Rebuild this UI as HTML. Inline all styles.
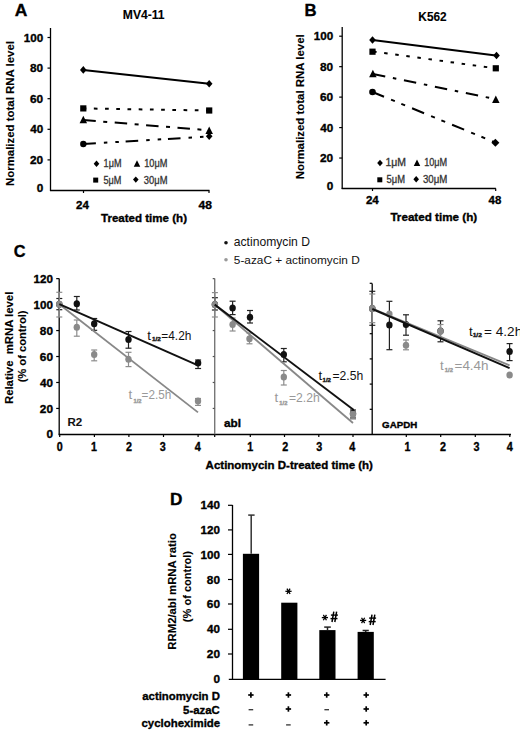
<!DOCTYPE html>
<html><head><meta charset="utf-8"><style>
html,body{margin:0;padding:0;background:#fff;}
svg{display:block;}
text{font-family:"Liberation Sans",sans-serif;}
</style></head><body>
<svg width="520" height="733" viewBox="0 0 520 733" font-family="Liberation Sans, sans-serif">
<rect width="520" height="733" fill="#fff"/>
<text xml:space="preserve" transform="translate(14.86,15.80) scale(1.0272,1)" font-size="17" font-weight="bold" fill="#000" stroke="#000" stroke-width="0.35" >A</text>
<text xml:space="preserve" transform="translate(122.81,19.20) scale(1.0109,1)" font-size="12" font-weight="bold" fill="#000" stroke="#000" stroke-width="0.1" >MV4-11</text>
<line x1="50.50" y1="28.00" x2="50.50" y2="191.00" stroke="#000" stroke-width="1.3" />
<line x1="50.00" y1="190.50" x2="209.50" y2="190.50" stroke="#000" stroke-width="1.3" />
<text xml:space="preserve" transform="translate(36.63,192.30) scale(1.0076,1)" font-size="11.7" font-weight="bold" fill="#000" stroke="#000" stroke-width="0.35" >0</text>
<line x1="47.50" y1="159.90" x2="50.50" y2="159.90" stroke="#000" stroke-width="1.2" />
<text xml:space="preserve" transform="translate(29.98,164.00) scale(1.0157,1)" font-size="11.7" font-weight="bold" fill="#000" stroke="#000" stroke-width="0.35" >20</text>
<line x1="47.50" y1="129.30" x2="50.50" y2="129.30" stroke="#000" stroke-width="1.2" />
<text xml:space="preserve" transform="translate(30.23,133.40) scale(0.9965,1)" font-size="11.7" font-weight="bold" fill="#000" stroke="#000" stroke-width="0.35" >40</text>
<line x1="47.50" y1="98.70" x2="50.50" y2="98.70" stroke="#000" stroke-width="1.2" />
<text xml:space="preserve" transform="translate(29.98,102.80) scale(1.0157,1)" font-size="11.7" font-weight="bold" fill="#000" stroke="#000" stroke-width="0.35" >60</text>
<line x1="47.50" y1="68.10" x2="50.50" y2="68.10" stroke="#000" stroke-width="1.2" />
<text xml:space="preserve" transform="translate(30.05,72.20) scale(1.0108,1)" font-size="11.7" font-weight="bold" fill="#000" stroke="#000" stroke-width="0.35" >80</text>
<line x1="47.50" y1="37.50" x2="50.50" y2="37.50" stroke="#000" stroke-width="1.2" />
<text xml:space="preserve" transform="translate(23.74,41.60) scale(0.9972,1)" font-size="11.7" font-weight="bold" fill="#000" stroke="#000" stroke-width="0.35" >100</text>
<line x1="83.50" y1="190.50" x2="83.50" y2="193.00" stroke="#000" stroke-width="1.2" />
<line x1="209.00" y1="190.50" x2="209.00" y2="193.00" stroke="#000" stroke-width="1.2" />
<text xml:space="preserve" transform="translate(76.09,208.50) scale(1.0077,1)" font-size="11.5" font-weight="bold" fill="#000" stroke="#000" stroke-width="0.35" >24</text>
<text xml:space="preserve" transform="translate(198.62,208.50) scale(1.0533,1)" font-size="11.5" font-weight="bold" fill="#000" stroke="#000" stroke-width="0.35" >48</text>
<text xml:space="preserve" transform="translate(100.98,221.90) scale(1.0061,1)" font-size="11.5" font-weight="bold" fill="#000" stroke="#000" stroke-width="0.35" >Treated time (h)</text>
<text xml:space="preserve" transform="translate(13.60,186.04) rotate(-90) scale(1.0119,1)" font-size="11.3" font-weight="bold" fill="#000" stroke="#000" stroke-width="0.12">Normalized total RNA level</text>
<line x1="83.30" y1="69.90" x2="209.20" y2="83.80" stroke="#000" stroke-width="2" />
<line x1="83.30" y1="108.40" x2="209.20" y2="110.50" stroke="#000" stroke-width="2" stroke-dasharray="3.7 7.52" stroke-dashoffset="0.7"/>
<line x1="83.30" y1="120.00" x2="209.20" y2="130.30" stroke="#000" stroke-width="2" stroke-dasharray="12.5 7.5 4 7.5" stroke-dashoffset="0"/>
<line x1="83.30" y1="144.00" x2="209.20" y2="136.50" stroke="#000" stroke-width="2" stroke-dasharray="12.6 8 3.5 8 3.5 6.8" stroke-dashoffset="0"/>
<path d="M80.00,69.90L83.30,66.10L86.60,69.90L83.30,73.70Z" fill="#000"/>
<path d="M205.90,83.80L209.20,80.00L212.50,83.80L209.20,87.60Z" fill="#000"/>
<rect x="80.20" y="105.30" width="6.2" height="6.2" fill="#000"/>
<rect x="206.10" y="107.40" width="6.2" height="6.2" fill="#000"/>
<path d="M79.55,123.25L83.30,115.75L87.05,123.25Z" fill="#000"/>
<path d="M205.45,133.95L209.20,126.45L212.95,133.95Z" fill="#000"/>
<circle cx="83.30" cy="144.00" r="3.2" fill="#000"/>
<path d="M205.90,136.20L209.20,132.40L212.50,136.20L209.20,140.00Z" fill="#000"/>
<path d="M93.70,163.80L96.50,160.60L99.30,163.80L96.50,167.00Z" fill="#000"/>
<text xml:space="preserve" transform="translate(103.62,167.20) scale(0.9086,1)" font-size="10" font-weight="normal" fill="#333" stroke="#333" stroke-width="0.3">1μM</text>
<path d="M133.75,166.75L137.00,160.25L140.25,166.75Z" fill="#000"/>
<text xml:space="preserve" transform="translate(144.21,167.20) scale(0.9218,1)" font-size="10" font-weight="normal" fill="#333" stroke="#333" stroke-width="0.3">10μM</text>
<rect x="93.20" y="177.60" width="5" height="5" fill="#000"/>
<text xml:space="preserve" transform="translate(103.53,184.40) scale(0.9130,1)" font-size="10" font-weight="normal" fill="#333" stroke="#333" stroke-width="0.3">5μM</text>
<path d="M133.00,179.60L135.80,176.40L138.60,179.60L135.80,182.80Z" fill="#000"/>
<text xml:space="preserve" transform="translate(143.83,184.40) scale(0.9375,1)" font-size="10" font-weight="normal" fill="#333" stroke="#333" stroke-width="0.3">30μM</text>
<text xml:space="preserve" transform="translate(304.61,15.80) scale(0.9836,1)" font-size="17" font-weight="bold" fill="#000" stroke="#000" stroke-width="0.35" >B</text>
<text xml:space="preserve" transform="translate(418.33,20.80) scale(0.9883,1)" font-size="12" font-weight="bold" fill="#000" stroke="#000" stroke-width="0.1" >K562</text>
<line x1="342.20" y1="27.00" x2="342.20" y2="189.00" stroke="#000" stroke-width="1.3" />
<line x1="341.70" y1="188.50" x2="495.90" y2="188.50" stroke="#000" stroke-width="1.3" />
<text xml:space="preserve" transform="translate(326.63,190.30) scale(1.0076,1)" font-size="11.7" font-weight="bold" fill="#000" stroke="#000" stroke-width="0.35" >0</text>
<line x1="339.20" y1="158.04" x2="342.20" y2="158.04" stroke="#000" stroke-width="1.2" />
<text xml:space="preserve" transform="translate(319.98,162.14) scale(1.0157,1)" font-size="11.7" font-weight="bold" fill="#000" stroke="#000" stroke-width="0.35" >20</text>
<line x1="339.20" y1="127.58" x2="342.20" y2="127.58" stroke="#000" stroke-width="1.2" />
<text xml:space="preserve" transform="translate(320.23,131.68) scale(0.9965,1)" font-size="11.7" font-weight="bold" fill="#000" stroke="#000" stroke-width="0.35" >40</text>
<line x1="339.20" y1="97.12" x2="342.20" y2="97.12" stroke="#000" stroke-width="1.2" />
<text xml:space="preserve" transform="translate(319.98,101.22) scale(1.0157,1)" font-size="11.7" font-weight="bold" fill="#000" stroke="#000" stroke-width="0.35" >60</text>
<line x1="339.20" y1="66.66" x2="342.20" y2="66.66" stroke="#000" stroke-width="1.2" />
<text xml:space="preserve" transform="translate(320.05,70.76) scale(1.0108,1)" font-size="11.7" font-weight="bold" fill="#000" stroke="#000" stroke-width="0.35" >80</text>
<line x1="339.20" y1="36.20" x2="342.20" y2="36.20" stroke="#000" stroke-width="1.2" />
<text xml:space="preserve" transform="translate(313.74,40.30) scale(0.9972,1)" font-size="11.7" font-weight="bold" fill="#000" stroke="#000" stroke-width="0.35" >100</text>
<line x1="372.50" y1="188.50" x2="372.50" y2="191.00" stroke="#000" stroke-width="1.2" />
<line x1="495.70" y1="188.50" x2="495.70" y2="191.00" stroke="#000" stroke-width="1.2" />
<text xml:space="preserve" transform="translate(365.89,203.60) scale(1.0077,1)" font-size="11.5" font-weight="bold" fill="#000" stroke="#000" stroke-width="0.35" >24</text>
<text xml:space="preserve" transform="translate(488.53,203.70) scale(0.9961,1)" font-size="11.5" font-weight="bold" fill="#000" stroke="#000" stroke-width="0.35" >48</text>
<text xml:space="preserve" transform="translate(390.38,221.20) scale(1.0143,1)" font-size="11.5" font-weight="bold" fill="#000" stroke="#000" stroke-width="0.35" >Treated time (h)</text>
<text xml:space="preserve" transform="translate(304.20,179.24) rotate(-90) scale(1.0119,1)" font-size="11.3" font-weight="bold" fill="#000" stroke="#000" stroke-width="0.12">Normalized total RNA level</text>
<line x1="372.50" y1="40.00" x2="495.80" y2="55.50" stroke="#000" stroke-width="2" />
<line x1="372.50" y1="51.50" x2="495.80" y2="68.30" stroke="#000" stroke-width="2" stroke-dasharray="3.5 7.67" stroke-dashoffset="10.57"/>
<line x1="372.50" y1="73.80" x2="495.80" y2="99.20" stroke="#000" stroke-width="2" stroke-dasharray="12.5 7.8 3.5 7.8" stroke-dashoffset="31.1"/>
<line x1="372.50" y1="92.00" x2="495.80" y2="142.70" stroke="#000" stroke-width="2" stroke-dasharray="13 7.6 4.1 7 4.1 7.5" stroke-dashoffset="0.54"/>
<path d="M369.20,40.00L372.50,36.20L375.80,40.00L372.50,43.80Z" fill="#000"/>
<path d="M493.20,55.50L496.50,51.70L499.80,55.50L496.50,59.30Z" fill="#000"/>
<rect x="369.40" y="48.60" width="6.2" height="6.2" fill="#000"/>
<rect x="492.70" y="65.20" width="6.2" height="6.2" fill="#000"/>
<path d="M369.15,77.35L372.90,69.85L376.65,77.35Z" fill="#000"/>
<path d="M492.05,102.95L495.80,95.45L499.55,102.95Z" fill="#000"/>
<circle cx="372.50" cy="92.00" r="3.3" fill="#000"/>
<path d="M491.40,142.80L495.40,138.80L499.40,142.80L495.40,146.80Z" fill="#000"/>
<path d="M377.20,163.00L380.00,159.80L382.80,163.00L380.00,166.20Z" fill="#000"/>
<text xml:space="preserve" transform="translate(385.51,166.20) scale(1.0471,1)" font-size="10" font-weight="normal" fill="#333" stroke="#333" stroke-width="0.3">1μM</text>
<path d="M413.75,166.05L417.00,159.55L420.25,166.05Z" fill="#000"/>
<text xml:space="preserve" transform="translate(424.22,166.20) scale(0.9133,1)" font-size="10" font-weight="normal" fill="#333" stroke="#333" stroke-width="0.3">10μM</text>
<rect x="377.30" y="177.30" width="5" height="5" fill="#000"/>
<text xml:space="preserve" transform="translate(386.62,182.90) scale(0.9402,1)" font-size="10" font-weight="normal" fill="#333" stroke="#333" stroke-width="0.3">5μM</text>
<path d="M413.40,179.20L416.20,176.00L419.00,179.20L416.20,182.40Z" fill="#000"/>
<text xml:space="preserve" transform="translate(422.91,182.90) scale(0.9667,1)" font-size="10" font-weight="normal" fill="#333" stroke="#333" stroke-width="0.3">30μM</text>
<text xml:space="preserve" transform="translate(13.85,257.30) scale(0.9609,1)" font-size="17" font-weight="bold" fill="#000" stroke="#000" stroke-width="0.35" >C</text>
<circle cx="226.00" cy="242.80" r="1.8" fill="#111"/>
<text xml:space="preserve" transform="translate(233.75,245.80) scale(1.0124,1)" font-size="12" font-weight="normal" fill="#111" >actinomycin D</text>
<circle cx="226.00" cy="259.70" r="1.8" fill="#999"/>
<text xml:space="preserve" transform="translate(233.83,264.10) scale(1.0298,1)" font-size="11.5" font-weight="normal" fill="#111" >5-azaC + actinomycin D</text>
<text xml:space="preserve" transform="translate(12.90,404.04) rotate(-90) scale(1.0040,1)" font-size="11.3" font-weight="bold" fill="#000" stroke="#000" stroke-width="0.12">Relative  mRNA level</text>
<text xml:space="preserve" transform="translate(25.70,382.36) rotate(-90) scale(0.9889,1)" font-size="11.3" font-weight="bold" fill="#000" stroke="#000" stroke-width="0.12">(% of control)</text>
<line x1="58.50" y1="434.50" x2="511.00" y2="434.50" stroke="#000" stroke-width="1.3" />
<line x1="59.20" y1="278.50" x2="59.20" y2="434.50" stroke="#000" stroke-width="1.3" />
<text xml:space="preserve" transform="translate(46.43,437.80) scale(1.0076,1)" font-size="11.7" font-weight="bold" fill="#000" stroke="#000" stroke-width="0.35" >0</text>
<line x1="56.20" y1="408.44" x2="59.20" y2="408.44" stroke="#000" stroke-width="1.2" />
<text xml:space="preserve" transform="translate(39.78,412.54) scale(1.0157,1)" font-size="11.7" font-weight="bold" fill="#000" stroke="#000" stroke-width="0.35" >20</text>
<line x1="56.20" y1="382.48" x2="59.20" y2="382.48" stroke="#000" stroke-width="1.2" />
<text xml:space="preserve" transform="translate(40.03,386.58) scale(0.9965,1)" font-size="11.7" font-weight="bold" fill="#000" stroke="#000" stroke-width="0.35" >40</text>
<line x1="56.20" y1="356.52" x2="59.20" y2="356.52" stroke="#000" stroke-width="1.2" />
<text xml:space="preserve" transform="translate(39.78,360.62) scale(1.0157,1)" font-size="11.7" font-weight="bold" fill="#000" stroke="#000" stroke-width="0.35" >60</text>
<line x1="56.20" y1="330.56" x2="59.20" y2="330.56" stroke="#000" stroke-width="1.2" />
<text xml:space="preserve" transform="translate(39.85,334.66) scale(1.0108,1)" font-size="11.7" font-weight="bold" fill="#000" stroke="#000" stroke-width="0.35" >80</text>
<line x1="56.20" y1="304.60" x2="59.20" y2="304.60" stroke="#000" stroke-width="1.2" />
<text xml:space="preserve" transform="translate(33.54,308.70) scale(0.9972,1)" font-size="11.7" font-weight="bold" fill="#000" stroke="#000" stroke-width="0.35" >100</text>
<line x1="56.20" y1="278.64" x2="59.20" y2="278.64" stroke="#000" stroke-width="1.2" />
<text xml:space="preserve" transform="translate(33.54,282.74) scale(0.9972,1)" font-size="11.7" font-weight="bold" fill="#000" stroke="#000" stroke-width="0.35" >120</text>
<line x1="214.70" y1="278.50" x2="214.70" y2="434.50" stroke="#777" stroke-width="1.4" />
<line x1="212.70" y1="408.44" x2="214.70" y2="408.44" stroke="#555" stroke-width="1.2" />
<line x1="212.70" y1="382.48" x2="214.70" y2="382.48" stroke="#555" stroke-width="1.2" />
<line x1="212.70" y1="356.52" x2="214.70" y2="356.52" stroke="#555" stroke-width="1.2" />
<line x1="212.70" y1="330.56" x2="214.70" y2="330.56" stroke="#555" stroke-width="1.2" />
<line x1="212.70" y1="304.60" x2="214.70" y2="304.60" stroke="#555" stroke-width="1.2" />
<line x1="212.70" y1="278.64" x2="214.70" y2="278.64" stroke="#555" stroke-width="1.2" />
<line x1="372.20" y1="283.50" x2="372.20" y2="434.50" stroke="#000" stroke-width="1.3" />
<line x1="369.70" y1="409.30" x2="372.20" y2="409.30" stroke="#000" stroke-width="1.2" />
<line x1="369.70" y1="384.10" x2="372.20" y2="384.10" stroke="#000" stroke-width="1.2" />
<line x1="369.70" y1="358.90" x2="372.20" y2="358.90" stroke="#000" stroke-width="1.2" />
<line x1="369.70" y1="333.70" x2="372.20" y2="333.70" stroke="#000" stroke-width="1.2" />
<line x1="369.70" y1="308.50" x2="372.20" y2="308.50" stroke="#000" stroke-width="1.2" />
<line x1="369.70" y1="283.30" x2="372.20" y2="283.30" stroke="#000" stroke-width="1.2" />
<line x1="59.70" y1="434.50" x2="59.70" y2="437.00" stroke="#000" stroke-width="1.2" />
<text xml:space="preserve" transform="translate(56.82,451.20) scale(0.8947,1)" font-size="12" font-weight="bold" fill="#000" stroke="#000" stroke-width="0.35" >0</text>
<line x1="94.40" y1="434.50" x2="94.40" y2="437.00" stroke="#000" stroke-width="1.2" />
<text xml:space="preserve" transform="translate(91.01,451.20) scale(0.8925,1)" font-size="12" font-weight="bold" fill="#000" stroke="#000" stroke-width="0.35" >1</text>
<line x1="128.90" y1="434.50" x2="128.90" y2="437.00" stroke="#000" stroke-width="1.2" />
<text xml:space="preserve" transform="translate(126.04,451.20) scale(0.8958,1)" font-size="12" font-weight="bold" fill="#000" stroke="#000" stroke-width="0.35" >2</text>
<line x1="163.50" y1="434.50" x2="163.50" y2="437.00" stroke="#000" stroke-width="1.2" />
<text xml:space="preserve" transform="translate(159.86,451.20) scale(0.8990,1)" font-size="12" font-weight="bold" fill="#000" stroke="#000" stroke-width="0.35" >3</text>
<line x1="198.10" y1="434.50" x2="198.10" y2="437.00" stroke="#000" stroke-width="1.2" />
<text xml:space="preserve" transform="translate(194.63,451.20) scale(0.9065,1)" font-size="12" font-weight="bold" fill="#000" stroke="#000" stroke-width="0.35" >4</text>
<line x1="250.30" y1="434.50" x2="250.30" y2="437.00" stroke="#000" stroke-width="1.2" />
<text xml:space="preserve" transform="translate(247.21,451.20) scale(0.8925,1)" font-size="12" font-weight="bold" fill="#000" stroke="#000" stroke-width="0.35" >1</text>
<line x1="284.50" y1="434.50" x2="284.50" y2="437.00" stroke="#000" stroke-width="1.2" />
<text xml:space="preserve" transform="translate(282.34,451.20) scale(0.8958,1)" font-size="12" font-weight="bold" fill="#000" stroke="#000" stroke-width="0.35" >2</text>
<line x1="318.80" y1="434.50" x2="318.80" y2="437.00" stroke="#000" stroke-width="1.2" />
<text xml:space="preserve" transform="translate(316.26,451.20) scale(0.8990,1)" font-size="12" font-weight="bold" fill="#000" stroke="#000" stroke-width="0.35" >3</text>
<line x1="353.00" y1="434.50" x2="353.00" y2="437.00" stroke="#000" stroke-width="1.2" />
<text xml:space="preserve" transform="translate(349.33,451.20) scale(0.9065,1)" font-size="12" font-weight="bold" fill="#000" stroke="#000" stroke-width="0.35" >4</text>
<line x1="406.30" y1="434.50" x2="406.30" y2="437.00" stroke="#000" stroke-width="1.2" />
<text xml:space="preserve" transform="translate(404.51,451.20) scale(0.8925,1)" font-size="12" font-weight="bold" fill="#000" stroke="#000" stroke-width="0.35" >1</text>
<line x1="440.70" y1="434.50" x2="440.70" y2="437.00" stroke="#000" stroke-width="1.2" />
<text xml:space="preserve" transform="translate(440.04,451.20) scale(0.8958,1)" font-size="12" font-weight="bold" fill="#000" stroke="#000" stroke-width="0.35" >2</text>
<line x1="475.30" y1="434.50" x2="475.30" y2="437.00" stroke="#000" stroke-width="1.2" />
<text xml:space="preserve" transform="translate(473.56,451.20) scale(0.8990,1)" font-size="12" font-weight="bold" fill="#000" stroke="#000" stroke-width="0.35" >3</text>
<line x1="509.80" y1="434.50" x2="509.80" y2="437.00" stroke="#000" stroke-width="1.2" />
<text xml:space="preserve" transform="translate(506.83,451.20) scale(0.9065,1)" font-size="12" font-weight="bold" fill="#000" stroke="#000" stroke-width="0.35" >4</text>
<line x1="214.70" y1="434.50" x2="214.70" y2="437.00" stroke="#000" stroke-width="1.2" />
<text xml:space="preserve" transform="translate(205.61,469.20) scale(1.0178,1)" font-size="11.3" font-weight="bold" fill="#000" stroke="#000" stroke-width="0.35" >Actinomycin D-treated time (h)</text>
<text xml:space="preserve" transform="translate(67.45,425.70) scale(1.0490,1)" font-size="11" font-weight="bold" fill="#111" stroke="#111" stroke-width="0.1" >R2</text>
<text xml:space="preserve" transform="translate(223.95,427.00) scale(1.0435,1)" font-size="11.3" font-weight="bold" fill="#000" stroke="#000" stroke-width="0.35" >abl</text>
<text xml:space="preserve" transform="translate(382.11,427.80) scale(1.0164,1)" font-size="9.6" font-weight="bold" fill="#000" stroke="#000" stroke-width="0.35" >GAPDH</text>
<line x1="59.30" y1="298.50" x2="59.30" y2="309.70" stroke="#222" stroke-width="1.2" />
<line x1="56.30" y1="298.50" x2="62.30" y2="298.50" stroke="#222" stroke-width="1.2" />
<line x1="56.30" y1="309.70" x2="62.30" y2="309.70" stroke="#222" stroke-width="1.2" />
<line x1="76.80" y1="296.50" x2="76.80" y2="310.00" stroke="#222" stroke-width="1.2" />
<line x1="73.80" y1="296.50" x2="79.80" y2="296.50" stroke="#222" stroke-width="1.2" />
<line x1="73.80" y1="310.00" x2="79.80" y2="310.00" stroke="#222" stroke-width="1.2" />
<line x1="94.20" y1="318.50" x2="94.20" y2="330.30" stroke="#222" stroke-width="1.2" />
<line x1="91.20" y1="318.50" x2="97.20" y2="318.50" stroke="#222" stroke-width="1.2" />
<line x1="91.20" y1="330.30" x2="97.20" y2="330.30" stroke="#222" stroke-width="1.2" />
<line x1="128.50" y1="331.50" x2="128.50" y2="348.20" stroke="#222" stroke-width="1.2" />
<line x1="125.50" y1="331.50" x2="131.50" y2="331.50" stroke="#222" stroke-width="1.2" />
<line x1="125.50" y1="348.20" x2="131.50" y2="348.20" stroke="#222" stroke-width="1.2" />
<line x1="198.10" y1="360.00" x2="198.10" y2="368.50" stroke="#222" stroke-width="1.2" />
<line x1="195.10" y1="360.00" x2="201.10" y2="360.00" stroke="#222" stroke-width="1.2" />
<line x1="195.10" y1="368.50" x2="201.10" y2="368.50" stroke="#222" stroke-width="1.2" />
<ellipse cx="59.30" cy="304.20" rx="3.2" ry="3.5" fill="#111"/>
<ellipse cx="76.80" cy="303.80" rx="3.2" ry="3.5" fill="#111"/>
<ellipse cx="94.20" cy="323.80" rx="3.2" ry="3.5" fill="#111"/>
<ellipse cx="128.50" cy="339.50" rx="3.2" ry="3.5" fill="#111"/>
<ellipse cx="198.10" cy="363.10" rx="3.2" ry="3.5" fill="#111"/>
<line x1="59.30" y1="292.30" x2="59.30" y2="317.00" stroke="#8c8c8c" stroke-width="1.2" />
<line x1="56.30" y1="292.30" x2="62.30" y2="292.30" stroke="#8c8c8c" stroke-width="1.2" />
<line x1="56.30" y1="317.00" x2="62.30" y2="317.00" stroke="#8c8c8c" stroke-width="1.2" />
<line x1="76.80" y1="320.00" x2="76.80" y2="336.20" stroke="#8c8c8c" stroke-width="1.2" />
<line x1="73.80" y1="320.00" x2="79.80" y2="320.00" stroke="#8c8c8c" stroke-width="1.2" />
<line x1="73.80" y1="336.20" x2="79.80" y2="336.20" stroke="#8c8c8c" stroke-width="1.2" />
<line x1="94.20" y1="350.00" x2="94.20" y2="360.80" stroke="#8c8c8c" stroke-width="1.2" />
<line x1="91.20" y1="350.00" x2="97.20" y2="350.00" stroke="#8c8c8c" stroke-width="1.2" />
<line x1="91.20" y1="360.80" x2="97.20" y2="360.80" stroke="#8c8c8c" stroke-width="1.2" />
<line x1="128.50" y1="352.30" x2="128.50" y2="366.60" stroke="#8c8c8c" stroke-width="1.2" />
<line x1="125.50" y1="352.30" x2="131.50" y2="352.30" stroke="#8c8c8c" stroke-width="1.2" />
<line x1="125.50" y1="366.60" x2="131.50" y2="366.60" stroke="#8c8c8c" stroke-width="1.2" />
<line x1="198.00" y1="398.50" x2="198.00" y2="405.40" stroke="#8c8c8c" stroke-width="1.2" />
<line x1="195.00" y1="398.50" x2="201.00" y2="398.50" stroke="#8c8c8c" stroke-width="1.2" />
<line x1="195.00" y1="405.40" x2="201.00" y2="405.40" stroke="#8c8c8c" stroke-width="1.2" />
<ellipse cx="59.30" cy="304.20" rx="3.2" ry="3.5" fill="#8a8a8a"/>
<ellipse cx="76.80" cy="327.20" rx="3.2" ry="3.5" fill="#8a8a8a"/>
<ellipse cx="94.20" cy="354.60" rx="3.2" ry="3.5" fill="#8a8a8a"/>
<ellipse cx="128.50" cy="359.20" rx="3.2" ry="3.5" fill="#8a8a8a"/>
<ellipse cx="198.00" cy="401.00" rx="3.2" ry="3.5" fill="#8a8a8a"/>
<line x1="59.30" y1="304.20" x2="198.00" y2="412.40" stroke="#888" stroke-width="1.8" />
<line x1="59.30" y1="304.20" x2="198.00" y2="365.40" stroke="#111" stroke-width="1.95" />
<line x1="214.90" y1="297.70" x2="214.90" y2="310.00" stroke="#222" stroke-width="1.2" />
<line x1="211.90" y1="297.70" x2="217.90" y2="297.70" stroke="#222" stroke-width="1.2" />
<line x1="211.90" y1="310.00" x2="217.90" y2="310.00" stroke="#222" stroke-width="1.2" />
<line x1="232.60" y1="301.20" x2="232.60" y2="314.60" stroke="#222" stroke-width="1.2" />
<line x1="229.60" y1="301.20" x2="235.60" y2="301.20" stroke="#222" stroke-width="1.2" />
<line x1="229.60" y1="314.60" x2="235.60" y2="314.60" stroke="#222" stroke-width="1.2" />
<line x1="250.00" y1="310.50" x2="250.00" y2="323.00" stroke="#222" stroke-width="1.2" />
<line x1="247.00" y1="310.50" x2="253.00" y2="310.50" stroke="#222" stroke-width="1.2" />
<line x1="247.00" y1="323.00" x2="253.00" y2="323.00" stroke="#222" stroke-width="1.2" />
<line x1="283.80" y1="348.50" x2="283.80" y2="361.80" stroke="#222" stroke-width="1.2" />
<line x1="280.80" y1="348.50" x2="286.80" y2="348.50" stroke="#222" stroke-width="1.2" />
<line x1="280.80" y1="361.80" x2="286.80" y2="361.80" stroke="#222" stroke-width="1.2" />
<line x1="353.00" y1="410.00" x2="353.00" y2="418.00" stroke="#222" stroke-width="1.2" />
<line x1="350.00" y1="410.00" x2="356.00" y2="410.00" stroke="#222" stroke-width="1.2" />
<line x1="350.00" y1="418.00" x2="356.00" y2="418.00" stroke="#222" stroke-width="1.2" />
<ellipse cx="214.90" cy="304.60" rx="3.2" ry="3.5" fill="#111"/>
<ellipse cx="232.60" cy="308.00" rx="3.2" ry="3.5" fill="#111"/>
<ellipse cx="250.00" cy="317.20" rx="3.2" ry="3.5" fill="#111"/>
<ellipse cx="283.80" cy="354.60" rx="3.2" ry="3.5" fill="#111"/>
<ellipse cx="353.00" cy="413.50" rx="3.2" ry="3.5" fill="#111"/>
<line x1="214.90" y1="292.60" x2="214.90" y2="317.00" stroke="#8c8c8c" stroke-width="1.2" />
<line x1="211.90" y1="292.60" x2="217.90" y2="292.60" stroke="#8c8c8c" stroke-width="1.2" />
<line x1="211.90" y1="317.00" x2="217.90" y2="317.00" stroke="#8c8c8c" stroke-width="1.2" />
<line x1="232.60" y1="318.00" x2="232.60" y2="331.00" stroke="#8c8c8c" stroke-width="1.2" />
<line x1="229.60" y1="318.00" x2="235.60" y2="318.00" stroke="#8c8c8c" stroke-width="1.2" />
<line x1="229.60" y1="331.00" x2="235.60" y2="331.00" stroke="#8c8c8c" stroke-width="1.2" />
<line x1="249.50" y1="333.00" x2="249.50" y2="343.80" stroke="#8c8c8c" stroke-width="1.2" />
<line x1="246.50" y1="333.00" x2="252.50" y2="333.00" stroke="#8c8c8c" stroke-width="1.2" />
<line x1="246.50" y1="343.80" x2="252.50" y2="343.80" stroke="#8c8c8c" stroke-width="1.2" />
<line x1="283.80" y1="370.50" x2="283.80" y2="385.00" stroke="#8c8c8c" stroke-width="1.2" />
<line x1="280.80" y1="370.50" x2="286.80" y2="370.50" stroke="#8c8c8c" stroke-width="1.2" />
<line x1="280.80" y1="385.00" x2="286.80" y2="385.00" stroke="#8c8c8c" stroke-width="1.2" />
<line x1="353.00" y1="412.00" x2="353.00" y2="419.00" stroke="#8c8c8c" stroke-width="1.2" />
<line x1="350.00" y1="412.00" x2="356.00" y2="412.00" stroke="#8c8c8c" stroke-width="1.2" />
<line x1="350.00" y1="419.00" x2="356.00" y2="419.00" stroke="#8c8c8c" stroke-width="1.2" />
<ellipse cx="214.90" cy="304.60" rx="3.2" ry="3.5" fill="#8a8a8a"/>
<ellipse cx="232.60" cy="324.60" rx="3.2" ry="3.5" fill="#8a8a8a"/>
<ellipse cx="249.50" cy="338.80" rx="3.2" ry="3.5" fill="#8a8a8a"/>
<ellipse cx="283.80" cy="377.00" rx="3.2" ry="3.5" fill="#8a8a8a"/>
<ellipse cx="353.00" cy="414.20" rx="3.2" ry="3.5" fill="#8a8a8a"/>
<line x1="214.70" y1="304.60" x2="353.00" y2="423.00" stroke="#888" stroke-width="1.8" />
<line x1="214.70" y1="304.60" x2="353.80" y2="410.00" stroke="#111" stroke-width="1.95" />
<line x1="372.30" y1="291.30" x2="372.30" y2="325.30" stroke="#222" stroke-width="1.2" />
<line x1="369.30" y1="291.30" x2="375.30" y2="291.30" stroke="#222" stroke-width="1.2" />
<line x1="369.30" y1="325.30" x2="375.30" y2="325.30" stroke="#222" stroke-width="1.2" />
<line x1="389.40" y1="301.30" x2="389.40" y2="349.70" stroke="#222" stroke-width="1.2" />
<line x1="386.40" y1="301.30" x2="392.40" y2="301.30" stroke="#222" stroke-width="1.2" />
<line x1="386.40" y1="349.70" x2="392.40" y2="349.70" stroke="#222" stroke-width="1.2" />
<line x1="406.00" y1="314.80" x2="406.00" y2="335.20" stroke="#222" stroke-width="1.2" />
<line x1="403.00" y1="314.80" x2="409.00" y2="314.80" stroke="#222" stroke-width="1.2" />
<line x1="403.00" y1="335.20" x2="409.00" y2="335.20" stroke="#222" stroke-width="1.2" />
<line x1="440.50" y1="320.80" x2="440.50" y2="341.80" stroke="#222" stroke-width="1.2" />
<line x1="437.50" y1="320.80" x2="443.50" y2="320.80" stroke="#222" stroke-width="1.2" />
<line x1="437.50" y1="341.80" x2="443.50" y2="341.80" stroke="#222" stroke-width="1.2" />
<line x1="509.60" y1="343.60" x2="509.60" y2="360.60" stroke="#222" stroke-width="1.2" />
<line x1="506.60" y1="343.60" x2="512.60" y2="343.60" stroke="#222" stroke-width="1.2" />
<line x1="506.60" y1="360.60" x2="512.60" y2="360.60" stroke="#222" stroke-width="1.2" />
<ellipse cx="372.30" cy="308.50" rx="3.2" ry="3.5" fill="#111"/>
<ellipse cx="389.40" cy="325.00" rx="3.2" ry="3.5" fill="#111"/>
<ellipse cx="406.00" cy="324.50" rx="3.2" ry="3.5" fill="#111"/>
<ellipse cx="440.50" cy="331.00" rx="3.2" ry="3.5" fill="#111"/>
<ellipse cx="509.60" cy="351.40" rx="3.2" ry="3.5" fill="#111"/>
<line x1="372.30" y1="294.00" x2="372.30" y2="322.70" stroke="#8c8c8c" stroke-width="1.2" />
<line x1="369.30" y1="294.00" x2="375.30" y2="294.00" stroke="#8c8c8c" stroke-width="1.2" />
<line x1="369.30" y1="322.70" x2="375.30" y2="322.70" stroke="#8c8c8c" stroke-width="1.2" />
<line x1="406.00" y1="340.00" x2="406.00" y2="349.80" stroke="#8c8c8c" stroke-width="1.2" />
<line x1="403.00" y1="340.00" x2="409.00" y2="340.00" stroke="#8c8c8c" stroke-width="1.2" />
<line x1="403.00" y1="349.80" x2="409.00" y2="349.80" stroke="#8c8c8c" stroke-width="1.2" />
<line x1="440.50" y1="324.50" x2="440.50" y2="338.00" stroke="#8c8c8c" stroke-width="1.2" />
<line x1="437.50" y1="324.50" x2="443.50" y2="324.50" stroke="#8c8c8c" stroke-width="1.2" />
<line x1="437.50" y1="338.00" x2="443.50" y2="338.00" stroke="#8c8c8c" stroke-width="1.2" />
<ellipse cx="372.30" cy="308.50" rx="3.2" ry="3.5" fill="#8a8a8a"/>
<ellipse cx="389.40" cy="314.00" rx="3.2" ry="3.5" fill="#8a8a8a"/>
<ellipse cx="406.00" cy="345.20" rx="3.2" ry="3.5" fill="#8a8a8a"/>
<ellipse cx="440.50" cy="331.20" rx="3.2" ry="3.5" fill="#8a8a8a"/>
<ellipse cx="509.60" cy="375.10" rx="3.2" ry="3.5" fill="#8a8a8a"/>
<line x1="372.30" y1="308.50" x2="509.60" y2="365.30" stroke="#888" stroke-width="1.8" />
<line x1="372.30" y1="309.00" x2="509.60" y2="368.20" stroke="#111" stroke-width="1.95" />
<text xml:space="preserve" transform="translate(147.20,340.30) scale(1.1111,1)" font-size="12" font-weight="normal" fill="#111" >t</text>
<text xml:space="preserve" transform="translate(151.99,341.30) scale(0.0638,0.0483)" font-size="100" font-weight="bold" fill="#111" stroke="#111" stroke-width="6.24">1/2</text>
<text xml:space="preserve" transform="translate(161.31,340.30) scale(0.9903,1)" font-size="12" font-weight="normal" fill="#111" >=4.2h</text>
<text xml:space="preserve" transform="translate(128.60,399.00) scale(1.1111,1)" font-size="12" font-weight="normal" fill="#999" >t</text>
<text xml:space="preserve" transform="translate(133.53,402.70) scale(0.0576,0.0510)" font-size="100" font-weight="bold" fill="#999" stroke="#999" stroke-width="6.45">1/2</text>
<text xml:space="preserve" transform="translate(141.61,399.00) scale(0.9765,1)" font-size="12" font-weight="normal" fill="#999" >=2.5h</text>
<text xml:space="preserve" transform="translate(318.60,379.50) scale(1.1111,1)" font-size="12" font-weight="normal" fill="#111" >t</text>
<text xml:space="preserve" transform="translate(322.51,382.00) scale(0.0607,0.0483)" font-size="100" font-weight="bold" fill="#111" stroke="#111" stroke-width="6.42">1/2</text>
<text xml:space="preserve" transform="translate(332.39,379.50) scale(1.0145,1)" font-size="12" font-weight="normal" fill="#111" >=2.5h</text>
<text xml:space="preserve" transform="translate(274.60,402.40) scale(1.1111,1)" font-size="12" font-weight="normal" fill="#999" >t</text>
<text xml:space="preserve" transform="translate(279.33,405.00) scale(0.0576,0.0523)" font-size="100" font-weight="bold" fill="#999" stroke="#999" stroke-width="6.37">1/2</text>
<text xml:space="preserve" transform="translate(288.89,402.40) scale(1.0145,1)" font-size="12" font-weight="normal" fill="#999" >=2.2h</text>
<text xml:space="preserve" transform="translate(469.00,335.80) scale(1.1111,1)" font-size="12" font-weight="normal" fill="#111" >t</text>
<text xml:space="preserve" transform="translate(472.66,337.00) scale(0.0669,0.0510)" font-size="100" font-weight="bold" fill="#111" stroke="#111" stroke-width="5.94">1/2</text>
<text xml:space="preserve" transform="translate(484.12,335.80) scale(1.1307,1)" font-size="12" font-weight="normal" fill="#111" >= 4.2h</text>
<text xml:space="preserve" transform="translate(440.00,370.30) scale(1.1111,1)" font-size="12" font-weight="normal" fill="#999" >t</text>
<text xml:space="preserve" transform="translate(444.82,372.10) scale(0.0584,0.0510)" font-size="100" font-weight="bold" fill="#999" stroke="#999" stroke-width="6.40">1/2</text>
<text xml:space="preserve" transform="translate(454.53,370.30) scale(1.1215,1)" font-size="12" font-weight="normal" fill="#999" >=4.4h</text>
<text xml:space="preserve" transform="translate(169.98,505.30) scale(1.0139,1)" font-size="17" font-weight="bold" fill="#000" stroke="#000" stroke-width="0.35" >D</text>
<line x1="232.50" y1="505.00" x2="232.50" y2="679.40" stroke="#000" stroke-width="1.3" />
<line x1="228.80" y1="679.40" x2="385.60" y2="679.40" stroke="#000" stroke-width="1.3" />
<text xml:space="preserve" transform="translate(213.43,683.30) scale(1.0076,1)" font-size="11.7" font-weight="bold" fill="#000" stroke="#000" stroke-width="0.35" >0</text>
<line x1="228.00" y1="654.00" x2="232.50" y2="654.00" stroke="#000" stroke-width="1.2" />
<text xml:space="preserve" transform="translate(206.78,658.10) scale(1.0157,1)" font-size="11.7" font-weight="bold" fill="#000" stroke="#000" stroke-width="0.35" >20</text>
<line x1="228.00" y1="629.30" x2="232.50" y2="629.30" stroke="#000" stroke-width="1.2" />
<text xml:space="preserve" transform="translate(207.03,633.40) scale(0.9965,1)" font-size="11.7" font-weight="bold" fill="#000" stroke="#000" stroke-width="0.35" >40</text>
<line x1="228.00" y1="604.00" x2="232.50" y2="604.00" stroke="#000" stroke-width="1.2" />
<text xml:space="preserve" transform="translate(206.78,608.10) scale(1.0157,1)" font-size="11.7" font-weight="bold" fill="#000" stroke="#000" stroke-width="0.35" >60</text>
<line x1="228.00" y1="579.50" x2="232.50" y2="579.50" stroke="#000" stroke-width="1.2" />
<text xml:space="preserve" transform="translate(206.85,583.60) scale(1.0108,1)" font-size="11.7" font-weight="bold" fill="#000" stroke="#000" stroke-width="0.35" >80</text>
<line x1="228.00" y1="554.40" x2="232.50" y2="554.40" stroke="#000" stroke-width="1.2" />
<text xml:space="preserve" transform="translate(200.54,558.50) scale(0.9972,1)" font-size="11.7" font-weight="bold" fill="#000" stroke="#000" stroke-width="0.35" >100</text>
<line x1="228.00" y1="529.90" x2="232.50" y2="529.90" stroke="#000" stroke-width="1.2" />
<text xml:space="preserve" transform="translate(200.54,534.00) scale(0.9972,1)" font-size="11.7" font-weight="bold" fill="#000" stroke="#000" stroke-width="0.35" >120</text>
<line x1="228.00" y1="505.30" x2="232.50" y2="505.30" stroke="#000" stroke-width="1.2" />
<text xml:space="preserve" transform="translate(200.54,509.40) scale(0.9972,1)" font-size="11.7" font-weight="bold" fill="#000" stroke="#000" stroke-width="0.35" >140</text>
<text xml:space="preserve" transform="translate(176.30,649.64) rotate(-90) scale(1.0120,1)" font-size="11.2" font-weight="bold" fill="#000" stroke="#000" stroke-width="0.12">RRM2/abl mRNA ratio</text>
<text xml:space="preserve" transform="translate(190.70,622.15) rotate(-90) scale(0.9864,1)" font-size="11.2" font-weight="bold" fill="#000" stroke="#000" stroke-width="0.12">(% of control)</text>
<rect x="242.90" y="553.80" width="16.2" height="125.60" fill="#000"/>
<rect x="281.20" y="602.70" width="16.2" height="76.70" fill="#000"/>
<rect x="319.30" y="630.10" width="16.2" height="49.30" fill="#000"/>
<rect x="357.60" y="631.90" width="16.2" height="47.50" fill="#000"/>
<line x1="251.20" y1="553.80" x2="251.20" y2="515.10" stroke="#333" stroke-width="1.5" />
<line x1="248.20" y1="515.10" x2="254.60" y2="515.10" stroke="#333" stroke-width="1.5" />
<line x1="327.50" y1="630.00" x2="327.50" y2="627.10" stroke="#222" stroke-width="1.5" />
<line x1="324.20" y1="627.10" x2="330.80" y2="627.10" stroke="#222" stroke-width="1.5" />
<line x1="365.70" y1="632.00" x2="365.70" y2="630.50" stroke="#222" stroke-width="1.5" />
<line x1="362.60" y1="630.50" x2="368.80" y2="630.50" stroke="#222" stroke-width="1.5" />
<line x1="285.40" y1="591.30" x2="291.60" y2="591.30" stroke="#000" stroke-width="1.3" />
<line x1="286.95" y1="588.62" x2="290.05" y2="593.98" stroke="#000" stroke-width="1.3" />
<line x1="290.05" y1="588.62" x2="286.95" y2="593.98" stroke="#000" stroke-width="1.3" />
<circle cx="288.50" cy="591.30" r="1.1" fill="#000"/>
<line x1="321.80" y1="617.60" x2="328.00" y2="617.60" stroke="#000" stroke-width="1.3" />
<line x1="323.35" y1="614.92" x2="326.45" y2="620.28" stroke="#000" stroke-width="1.3" />
<line x1="326.45" y1="614.92" x2="323.35" y2="620.28" stroke="#000" stroke-width="1.3" />
<circle cx="324.90" cy="617.60" r="1.1" fill="#000"/>
<line x1="333.80" y1="611.60" x2="332.00" y2="622.00" stroke="#000" stroke-width="1.5" />
<line x1="336.60" y1="611.60" x2="334.80" y2="622.00" stroke="#000" stroke-width="1.5" />
<line x1="330.90" y1="615.10" x2="337.90" y2="615.10" stroke="#000" stroke-width="1.4" />
<line x1="330.50" y1="618.60" x2="337.50" y2="618.60" stroke="#000" stroke-width="1.4" />
<line x1="360.00" y1="620.40" x2="366.20" y2="620.40" stroke="#000" stroke-width="1.3" />
<line x1="361.55" y1="617.72" x2="364.65" y2="623.08" stroke="#000" stroke-width="1.3" />
<line x1="364.65" y1="617.72" x2="361.55" y2="623.08" stroke="#000" stroke-width="1.3" />
<circle cx="363.10" cy="620.40" r="1.1" fill="#000"/>
<line x1="372.00" y1="614.60" x2="370.20" y2="625.00" stroke="#000" stroke-width="1.5" />
<line x1="374.80" y1="614.60" x2="373.00" y2="625.00" stroke="#000" stroke-width="1.5" />
<line x1="369.10" y1="618.10" x2="376.10" y2="618.10" stroke="#000" stroke-width="1.4" />
<line x1="368.70" y1="621.60" x2="375.70" y2="621.60" stroke="#000" stroke-width="1.4" />
<text xml:space="preserve" transform="translate(142.26,699.90) scale(0.9633,1)" font-size="11.8" font-weight="bold" fill="#000" stroke="#000" stroke-width="0.35" >actinomycin D</text>
<text xml:space="preserve" transform="translate(183.06,713.60) scale(0.9666,1)" font-size="11.8" font-weight="bold" fill="#000" stroke="#000" stroke-width="0.35" >5-azaC</text>
<text xml:space="preserve" transform="translate(141.44,726.60) scale(0.9687,1)" font-size="11.8" font-weight="bold" fill="#000" stroke="#000" stroke-width="0.35" >cycloheximide</text>
<line x1="248.20" y1="695.00" x2="253.60" y2="695.00" stroke="#000" stroke-width="1.7" />
<line x1="250.90" y1="692.30" x2="250.90" y2="697.70" stroke="#000" stroke-width="1.7" />
<line x1="285.70" y1="695.00" x2="291.10" y2="695.00" stroke="#000" stroke-width="1.7" />
<line x1="288.40" y1="692.30" x2="288.40" y2="697.70" stroke="#000" stroke-width="1.7" />
<line x1="324.00" y1="695.00" x2="329.40" y2="695.00" stroke="#000" stroke-width="1.7" />
<line x1="326.70" y1="692.30" x2="326.70" y2="697.70" stroke="#000" stroke-width="1.7" />
<line x1="363.50" y1="695.00" x2="368.90" y2="695.00" stroke="#000" stroke-width="1.7" />
<line x1="366.20" y1="692.30" x2="366.20" y2="697.70" stroke="#000" stroke-width="1.7" />
<line x1="248.60" y1="709.70" x2="253.20" y2="709.70" stroke="#333" stroke-width="1.3" />
<line x1="285.70" y1="709.00" x2="291.10" y2="709.00" stroke="#000" stroke-width="1.7" />
<line x1="288.40" y1="706.30" x2="288.40" y2="711.70" stroke="#000" stroke-width="1.7" />
<line x1="324.40" y1="709.70" x2="329.00" y2="709.70" stroke="#333" stroke-width="1.3" />
<line x1="363.50" y1="709.00" x2="368.90" y2="709.00" stroke="#000" stroke-width="1.7" />
<line x1="366.20" y1="706.30" x2="366.20" y2="711.70" stroke="#000" stroke-width="1.7" />
<line x1="248.60" y1="724.90" x2="253.20" y2="724.90" stroke="#333" stroke-width="1.3" />
<line x1="286.10" y1="724.90" x2="290.70" y2="724.90" stroke="#333" stroke-width="1.3" />
<line x1="324.00" y1="722.80" x2="329.40" y2="722.80" stroke="#000" stroke-width="1.7" />
<line x1="326.70" y1="720.10" x2="326.70" y2="725.50" stroke="#000" stroke-width="1.7" />
<line x1="363.50" y1="722.80" x2="368.90" y2="722.80" stroke="#000" stroke-width="1.7" />
<line x1="366.20" y1="720.10" x2="366.20" y2="725.50" stroke="#000" stroke-width="1.7" />
</svg></body></html>
